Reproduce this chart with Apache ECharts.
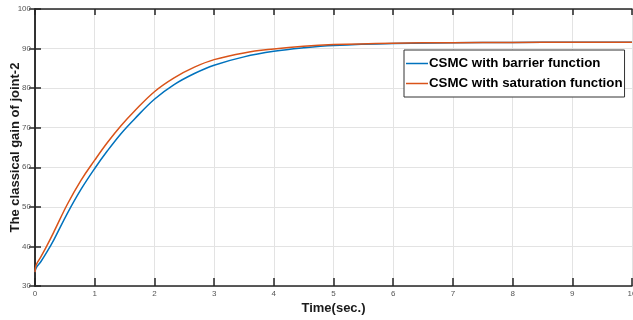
<!DOCTYPE html>
<html>
<head>
<meta charset="utf-8">
<script src="https://cdn.jsdelivr.net/npm/echarts@6/dist/echarts.min.js"></script>
<style>html,body{margin:0;padding:0;background:#fff}#c{width:633px;height:320px}</style>
</head>
<body>
<div id="c"></div>
<script>
var timeSec = [0, 0.02, 0.1, 0.2, 0.32, 0.54, 0.77, 1, 1.21, 1.44, 1.66, 2, 2.33, 2.67, 3, 3.5, 4, 4.5, 5, 6, 7, 8, 9, 10];
var gainBarrier = [33.5, 34.6, 36.2, 38.6, 41.8, 48.3, 54.4, 59.7, 64.1, 68.5, 72.1, 77.2, 80.9, 83.7, 85.8, 87.9, 89.3, 90.2, 90.8, 91.3, 91.45, 91.55, 91.6, 91.6];
var gainSaturation = [33.5, 35.3, 37.4, 40.2, 43.8, 50.6, 56.7, 61.8, 66.2, 70.5, 74.1, 79.1, 82.6, 85.3, 87.2, 88.9, 89.9, 90.6, 91.0, 91.35, 91.5, 91.55, 91.6, 91.6];
var seriesNames = ['CSMC with barrier function', 'CSMC with saturation function'];
var xTitle = 'Time(sec.)';
var yTitle = 'The classical gain of joint-2';

function pairs(t, v) { return t.map(function (x, i) { return [x, v[i]]; }); }

var font = '"Liberation Sans", Arial, Helvetica, sans-serif';
var axisCol = '#262626';
var chart = echarts.init(document.getElementById('c'), null, {renderer: 'canvas'});
chart.setOption({
  animation: false,
  backgroundColor: '#ffffff',
  grid: {left: 35, right: 1, top: 9, bottom: 34, containLabel: false, outerBoundsMode: 'none'},
  legend: {
    orient: 'vertical',
    left: 404, top: 50,
    backgroundColor: '#ffffff',
    borderColor: '#333333', borderWidth: 1,
    padding: [7, 2, 7, 2],
    itemGap: 7,
    itemWidth: 22, itemHeight: 1.5,
    icon: 'rect',
    textStyle: {fontFamily: font, fontWeight: 'bold', fontSize: 13.3, color: '#000', padding: [0, 0, 0, -4]},
    data: seriesNames
  },
  xAxis: [{
    type: 'value', min: 0, max: 10, interval: 1,
    name: xTitle, nameLocation: 'middle', nameGap: 16, nameMoveOverlap: false,
    nameTextStyle: {fontFamily: font, fontWeight: 'bold', fontSize: 13, color: '#1a1a1a'},
    axisLine: {show: true, lineStyle: {color: axisCol, width: 1.5}},
    axisTick: {show: true, inside: true, length: 8, lineStyle: {color: axisCol, width: 1.5}},
    axisLabel: {fontFamily: font, fontSize: 8, color: '#555', margin: 4},
    splitLine: {show: true, lineStyle: {color: '#e3e3e3', width: 1}}
  }, {
    type: 'value', min: 0, max: 10, interval: 1, position: 'top',
    axisLine: {show: true, lineStyle: {color: axisCol, width: 1.5}},
    axisTick: {show: true, inside: true, length: 6, lineStyle: {color: axisCol, width: 1.5}},
    axisLabel: {show: false}, splitLine: {show: false}
  }],
  yAxis: [{
    type: 'value', min: 30, max: 100, interval: 10,
    name: yTitle, nameLocation: 'middle', nameGap: 13, nameMoveOverlap: false,
    nameTextStyle: {fontFamily: font, fontWeight: 'bold', fontSize: 13, color: '#1a1a1a'},
    axisLine: {show: true, lineStyle: {color: axisCol, width: 1.5}},
    axisTick: {show: true, inside: true, length: 6, lineStyle: {color: axisCol, width: 1.5}},
    axisLabel: {fontFamily: font, fontSize: 8, color: '#555', margin: 4},
    splitLine: {show: true, lineStyle: {color: '#e3e3e3', width: 1}}
  }, {
    type: 'value', min: 30, max: 100, interval: 10, position: 'right',
    axisLine: {show: true, lineStyle: {color: axisCol, width: 1.5}},
    axisTick: {show: true, inside: true, length: 6, lineStyle: {color: axisCol, width: 1.5}},
    axisLabel: {show: false}, splitLine: {show: false}
  }],
  series: [{
    name: seriesNames[0], type: 'line', data: pairs(timeSec, gainBarrier),
    showSymbol: false, smooth: 0.4,
    lineStyle: {color: '#0072BD', width: 1.5}, itemStyle: {color: '#0072BD'}
  }, {
    name: seriesNames[1], type: 'line', data: pairs(timeSec, gainSaturation),
    showSymbol: false, smooth: 0.4,
    lineStyle: {color: '#D95319', width: 1.5}, itemStyle: {color: '#D95319'}
  }]
});
</script>
</body>
</html>
